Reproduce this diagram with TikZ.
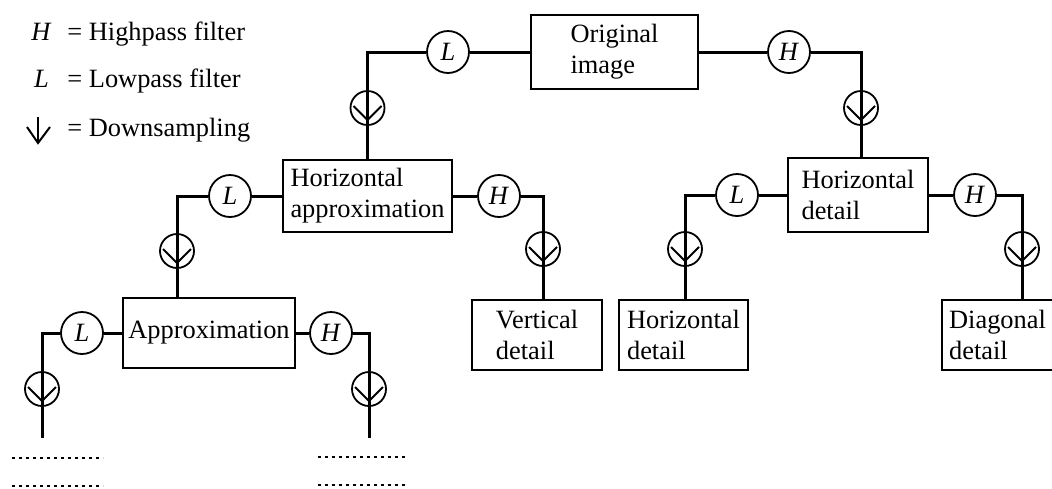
\documentclass[tikz,border=0pt]{standalone}
\usepackage{fontspec}
\setmainfont{Liberation Serif}
\usetikzlibrary{calc}
\tikzset{
  txt/.style = {font=\fontsize{13.2}{15.5}\selectfont},
  wire/.style = {line width=1.5pt},
  blk/.style = {txt, draw, line width=1pt, align=left, inner xsep=2pt, inner ysep=0pt},
  flt/.style = {txt, draw, circle, line width=0.9pt, fill=white, minimum size=21pt, inner sep=0pt},
  dsmp/.style = {draw, circle, line width=0.9pt, minimum size=17pt, inner sep=0pt,
    path picture = {\draw[line width=1pt]
      ([shift={(-7pt,1pt)}]path picture bounding box.center) --
      ([shift={(0pt,-6pt)}]path picture bounding box.center) --
      ([shift={(7pt,1pt)}]path picture bounding box.center);}},
  keytxt/.style = {txt, anchor=base west, inner sep=0pt},
}

\begin{document}
\begin{tikzpicture}[x=0.5pt, y=-0.5pt]
	\useasboundingbox (0,0) rectangle (1052,488);
	\clip (0,0) rectangle (1052,488);

	% legend
	\node[keytxt, anchor=base] (symH) at (41.5,40) {\textit{H}};
	\node[keytxt] (keyH) at (67,40) {= Highpass filter};
	\node[keytxt, anchor=base] (symL) at (41.5,87) {\textit{L}};
	\node[keytxt] (keyL) at (67,87) {= Lowpass filter};
	\coordinate (symD) at (38,117);
	\node[keytxt] (keyD) at (67,136) {= Downsampling};
	\draw[line width=1pt] (symD) -- ++(0,26);
	\draw[line width=1pt] ($(symD)+(-11,10)$) -- ++(11,16) -- ++(12,-16);

	% boxes
	\node[blk, minimum width=83.5pt, minimum height=37pt] (orig) at (614.5,52) {Original\\image};
	\node[blk, minimum width=84.5pt, minimum height=36pt] (hApp) at (367.5,196) {Horizontal\\approximation};
	\node[blk, minimum width=70pt, minimum height=37pt] (hDet) at (858,195) {Horizontal\\detail};
	\node[blk, minimum width=86pt, minimum height=35pt] (app) at (209,333) {Approximation};
	\node[blk, minimum width=65pt, minimum height=35pt] (vDet) at (537,335) {Vertical\\detail};
	\node[blk, minimum width=64.5pt, minimum height=35pt] (hDetB) at (683.5,335) {Horizontal\\detail};
	\node[blk, minimum width=55.5pt, minimum height=35pt] (dDet) at (997.5,335) {Diagonal\\detail};

	% filters
	\node[flt] (L1) at (448,52) {\textit{L}};
	\node[flt] (H1) at (789,52) {\textit{H}};
	\node[flt] (L2) at (230,196) {\textit{L}};
	\node[flt] (H2) at (499,196) {\textit{H}};
	\node[flt] (L2r) at (737,195) {\textit{L}};
	\node[flt] (H2r) at (975,195) {\textit{H}};
	\node[flt] (L3) at (82,333) {\textit{L}};
	\node[flt] (H3) at (331,333) {\textit{H}};

	% downsampling
	\node[dsmp] (ds1) at (367.5,108) {};
	\node[dsmp] (ds1r) at (861,108) {};
	\node[dsmp] (ds2) at (177,251) {};
	\node[dsmp] (ds2b) at (543,249) {};
	\node[dsmp] (ds2r) at (685,249) {};
	\node[dsmp] (ds2s) at (1022,249) {};
	\node[dsmp] (ds3) at (42,389) {};
	\node[dsmp] (ds3b) at (369,389) {};
	\coordinate (end3) at (42,438);
	\coordinate (end3b) at (369,438);

	\begin{scope}[wire]
		\draw (orig.west) -- (L1);
		\draw (L1.west) -| (ds1.center) -- (ds1.center |- hApp.north);
		\draw (orig.east) -- (H1);
		\draw (H1.east) -| (ds1r.center) -- (ds1r.center |- hDet.north);

		\draw (hApp.west) -- (L2);
		\draw (L2.west) -| (ds2.center) -- (ds2.center |- app.north);
		\draw (hApp.east) -- (H2);
		\draw (H2.east) -| (ds2b.center) -- (ds2b.center |- vDet.north);

		\draw (hDet.west) -- (L2r);
		\draw (L2r.west) -| (ds2r.center) -- (ds2r.center |- hDetB.north);
		\draw (hDet.east) -- (H2r);
		\draw (H2r.east) -| (ds2s.center) -- (ds2s.center |- dDet.north);

		\draw (app.west) -- (L3);
		\draw (L3.west) -| (end3);
		\draw (app.east) -- (H3);
		\draw (H3.east) -| (end3b);
	\end{scope}

	% further levels
	\begin{scope}[line width=1.1pt, dash pattern=on 1.6pt off 1.9pt]
		\draw (12,458) -- (103,458);
		\draw (12,486) -- (103,486);
		\draw (318,457) -- (408,457);
		\draw (318,485) -- (408,485);
	\end{scope}
\end{tikzpicture}
\end{document}
